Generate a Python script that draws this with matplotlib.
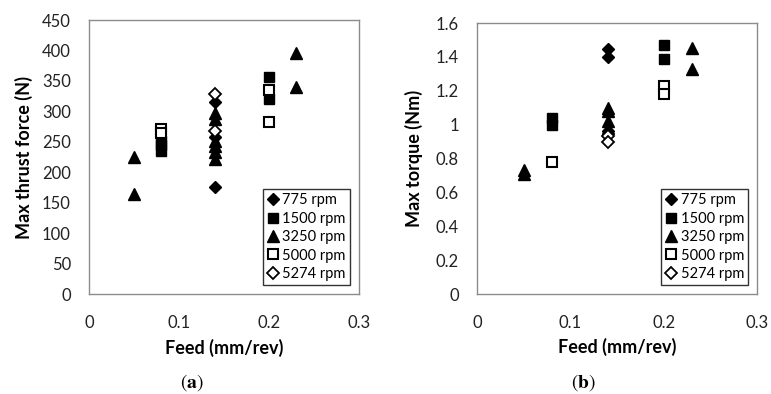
import matplotlib
matplotlib.use("Agg")
import matplotlib.pyplot as plt

plt.rcParams['font.family'] = ['Lato', 'DejaVu Sans']
plt.rcParams['mathtext.fontset'] = 'stix'

# Feed (mm/rev) and values per spindle speed
rpm_labels = ["775 rpm", "1500 rpm", "3250 rpm", "5000 rpm", "5274 rpm"]

# (a) thrust force (N)
thrust_x = [
    [0.14, 0.14, 0.14],
    [0.08, 0.08, 0.08, 0.2, 0.2],
    [0.05, 0.05, 0.14, 0.14, 0.14, 0.14, 0.14, 0.14, 0.23, 0.23],
    [0.08, 0.08, 0.2, 0.2],
    [0.14, 0.14],
]
thrust_y = [
    [315, 258, 175],
    [235, 244, 252, 357, 320],
    [225, 164, 298, 288, 252, 243, 233, 222, 396, 340],
    [271, 264, 335, 282],
    [328, 268],
]

# (b) torque (Nm)
torque_x = [
    [0.14, 0.14, 0.14],
    [0.08, 0.08, 0.2, 0.2],
    [0.05, 0.05, 0.14, 0.14, 0.14, 0.14, 0.23, 0.23],
    [0.08, 0.2, 0.2],
    [0.14, 0.14],
]
torque_y = [
    [1.445, 1.40, 0.96],
    [1.04, 1.00, 1.47, 1.39],
    [0.73, 0.71, 1.10, 1.08, 1.02, 0.98, 1.45, 1.33],
    [0.78, 1.23, 1.18],
    [0.93, 0.90],
]

styles = [
    dict(marker='D', mfc='black', mec='black', ms=6),
    dict(marker='s', mfc='black', mec='black', ms=7.5),
    dict(marker='^', mfc='black', mec='black', ms=8),
    dict(marker='s', mfc='white', mec='black', ms=7, mew=1.5),
    dict(marker='D', mfc='white', mec='black', ms=6, mew=1.3),
]

fig = plt.figure(figsize=(7.71, 3.94), dpi=100)
ax1 = fig.add_axes([0.1154, 0.2538, 0.3502, 0.6954])
ax2 = fig.add_axes([0.6187, 0.2538, 0.3632, 0.6878])


def draw(ax, xs, ys, ylim, yticks, ytl, ylabel, ylab_x):
    for x, y, lab, st in zip(xs, ys, rpm_labels, styles):
        ax.plot(x, y, linestyle='none', label=lab, **st)
    ax.set_xlim(0, 0.3)
    ax.set_ylim(*ylim)
    ax.set_xticks([0, 0.1, 0.2, 0.3])
    ax.set_xticklabels(["0", "0.1", "0.2", "0.3"])
    ax.set_yticks(yticks)
    ax.set_yticklabels(ytl)
    ax.tick_params(length=0, labelsize=12, colors='#222222')
    ax.tick_params(axis='y', pad=13)
    ax.tick_params(axis='x', pad=15)
    for s in ax.spines.values():
        s.set_color('#8c8c8c')
        s.set_linewidth(1)
    ax.set_xlabel("Feed (mm/rev)", fontsize=13, fontweight='bold')
    ax.xaxis.set_label_coords(0.5, -0.197)
    ax.xaxis.label.set_va('center')
    ax.set_ylabel(ylabel, fontsize=13, fontweight='bold')
    ax.yaxis.set_label_coords(ylab_x, 0.5)
    ax.yaxis.label.set_va('center')
    leg = ax.legend(loc='lower right', fontsize=10.5, frameon=True, fancybox=False,
                    edgecolor='black', borderpad=0.3, labelspacing=0.3,
                    handlelength=0.8, handletextpad=0.25, borderaxespad=0.6,
                    numpoints=1)
    leg.get_frame().set_linewidth(1)


draw(ax1, thrust_x, thrust_y, (0, 450), list(range(0, 451, 50)),
     [str(v) for v in range(0, 451, 50)], "Max thrust force (N)", -0.241)
draw(ax2, torque_x, torque_y, (0, 1.6), [0, 0.2, 0.4, 0.6, 0.8, 1.0, 1.2, 1.4, 1.6],
     ["0", "0.2", "0.4", "0.6", "0.8", "1", "1.2", "1.4", "1.6"], "Max torque (Nm)", -0.225)

fig.text(192 / 771, 1 - 383 / 394, r"$(\mathbf{a})$", fontsize=14, ha='center', va='center')
fig.text(583 / 771, 1 - 383 / 394, r"$(\mathbf{b})$", fontsize=14, ha='center', va='center')

fig.savefig("out.png", dpi=100)
